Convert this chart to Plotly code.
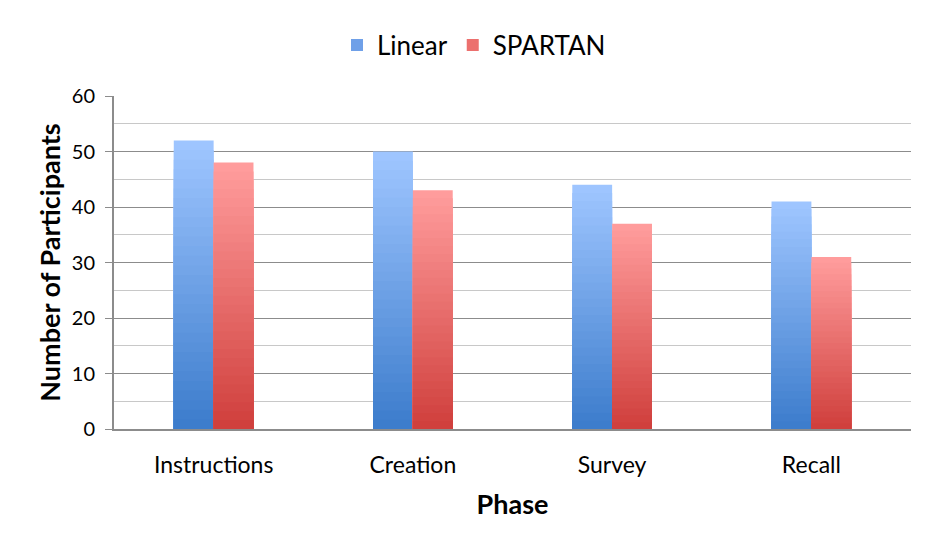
import plotly.graph_objects as go

phases = ["Instructions", "Creation", "Survey", "Recall"]
linear = [52, 50, 44, 41]
spartan = [48, 43, 37, 31]
series_names = ["Linear", "SPARTAN"]
y_ticks = [0, 10, 20, 30, 40, 50, 60]

FONT = "Lato"
N_SLICES = 30


def mix(c1, c2, t):
    return "rgb(%d,%d,%d)" % tuple(round(a + (b - a) * t) for a, b in zip(c1, c2))


styles = {
    "Linear": dict(top=(158, 197, 255), bottom=(61, 125, 204), offset=-0.2, legend=(111, 160, 232)),
    "SPARTAN": dict(top=(255, 156, 156), bottom=(208, 64, 61), offset=0.0, legend=(236, 112, 110)),
}

fig = go.Figure()
for name, vals in zip(series_names, [linear, spartan]):
    st = styles[name]
    # gradient: overlay of progressively shorter, darker bars
    for k in range(N_SLICES):
        frac = 1 - k / N_SLICES
        fig.add_trace(go.Bar(
            x=phases, y=[v * frac for v in vals],
            width=0.2, offset=st["offset"],
            marker=dict(color=mix(st["top"], st["bottom"], k / (N_SLICES - 1)), line=dict(width=0)),
            showlegend=False, hoverinfo="skip" if k else None,
            name=name,
        ))
    fig.add_trace(go.Bar(
        x=phases, y=[None] * len(phases), name=name,
        marker=dict(color=mix(st["legend"], st["legend"], 0), line=dict(width=0)),
        showlegend=True,
    ))

# page body has an 8px margin, compensate so the plot lands where the reference has it
fig.update_layout(
    width=932, height=540,
    barmode="overlay",
    paper_bgcolor="white", plot_bgcolor="white",
    margin=dict(l=106, r=29, t=88, b=119, autoexpand=False),
    font=dict(family=FONT, size=20, color="black"),
    legend=dict(orientation="h", x=466 / 932, xanchor="center", xref="container",
                y=1 - 37 / 540, yanchor="middle",
                yref="container", font=dict(size=26, family=FONT), itemwidth=30,
                traceorder="normal"),
    showlegend=True,
    xaxis=dict(
        type="category", categoryorder="array", categoryarray=phases,
        showline=True, linecolor="#8c8c8c", linewidth=2,
        ticks="outside", ticklen=14, tickcolor="rgba(0,0,0,0)",
        tickfont=dict(size=23, family=FONT),
        title=dict(text="<b>Phase</b>", font=dict(size=27, family=FONT), standoff=19),
        showgrid=False, automargin=False,
    ),
    yaxis=dict(
        range=[0, 60], tickvals=y_ticks, ticktext=[str(t) for t in y_ticks],
        showline=True, linecolor="#8c8c8c", linewidth=2,
        ticks="outside", ticklen=7, tickcolor="#8c8c8c", tickwidth=1,
        showgrid=True, gridcolor="#8c8c8c", gridwidth=1,
        minor=dict(dtick=5, showgrid=True, gridcolor="#c8c8c8", gridwidth=1, ticks=""),
        tickfont=dict(size=20, family=FONT),
        ticklabelstandoff=6,
        zeroline=False, automargin=False,
        title=dict(text="<b>Number of Participants</b>", font=dict(size=27, family=FONT), standoff=3),
    ),
)

fig.write_html("out.html")
